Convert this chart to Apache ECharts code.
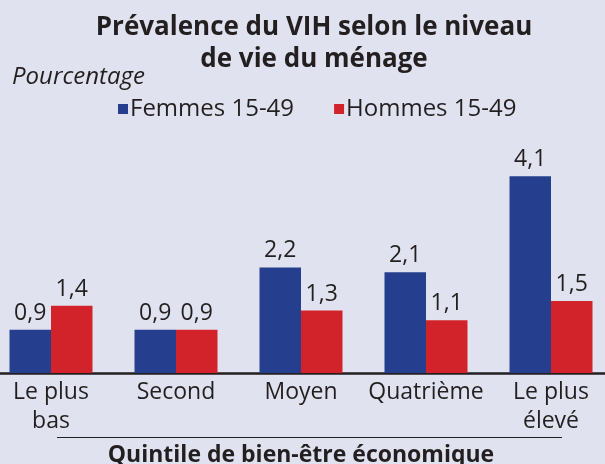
<!DOCTYPE html>
<html>
<head>
<meta charset="utf-8">
<script src="https://cdn.jsdelivr.net/npm/echarts@6/dist/echarts.min.js"></script>
<style>
  html, body { margin: 0; padding: 0; background: #e0e2ef; }
  #chart { width: 605px; height: 464px; }
</style>
</head>
<body>
<div id="chart"></div>
<script>
// quintiles et valeurs (%)
var quintiles = ['Le plus\nbas', 'Second', 'Moyen', 'Quatrième', 'Le plus\nélevé'];
var femmes = [0.9, 0.9, 2.2, 2.1, 4.1];
var hommes = [1.4, 0.9, 1.3, 1.1, 1.5];

var txt = '#231f20';
var fnt = '"Open Sans", "DejaVu Sans", sans-serif';

function virgule(p) {
  return p.value.toFixed(1).replace('.', ',');
}

var myChart = echarts.init(document.getElementById('chart'));
myChart.setOption({
  backgroundColor: '#e0e2ef',
  animation: false,
  textStyle: { fontFamily: fnt, color: txt },
  title: {
    text: 'Prévalence du VIH selon le niveau\nde vie du ménage',
    left: 314,
    top: 12,
    padding: 0,
    textAlign: 'center',
    textStyle: { fontSize: 26, fontWeight: 'bold', lineHeight: 32, color: txt, fontFamily: fnt }
  },
  legend: {
    left: 113,
    top: 92,
    icon: 'rect',
    itemWidth: 10,
    itemHeight: 10,
    itemGap: 40,
    textStyle: { fontSize: 24, color: txt, padding: [0, 0, 0, -3] },
    data: ['Femmes 15-49', 'Hommes 15-49']
  },
  grid: { left: -11.5, right: -8.5, top: 133, bottom: 91, outerBoundsMode: 'none', containLabel: false },
  xAxis: {
    type: 'category',
    data: quintiles,
    axisTick: { show: false },
    axisLine: { lineStyle: { color: txt, width: 2.5 } },
    axisLabel: { fontSize: 23, lineHeight: 29, color: txt, margin: 5, interval: 0 },
    name: 'Quintile de bien-être économique',
    nameLocation: 'middle',
    nameGap: 71,
    nameTextStyle: { fontSize: 23, fontWeight: 'bold', color: txt }
  },
  yAxis: {
    type: 'value',
    min: 0,
    max: 5,
    show: false
  },
  graphic: [
    {
      type: 'text',
      left: 12,
      top: 65,
      style: { text: 'Pourcentage', fontSize: 24, fontStyle: 'italic', fill: txt, fontFamily: fnt }
    },
    {
      type: 'line',
      shape: { x1: 57, y1: 437.5, x2: 562, y2: 437.5 },
      style: { stroke: txt, lineWidth: 1 }
    }
  ],
  series: [
    {
      name: 'Femmes 15-49',
      type: 'bar',
      data: femmes,
      barWidth: 41.5,
      barGap: 0,
      itemStyle: { color: '#253f8e' },
      label: { show: true, position: 'top', distance: 5, fontSize: 23, color: txt, formatter: virgule }
    },
    {
      name: 'Hommes 15-49',
      type: 'bar',
      data: hommes,
      barWidth: 41.5,
      barGap: 0,
      itemStyle: { color: '#d2232a' },
      label: { show: true, position: 'top', distance: 5, fontSize: 23, color: txt, formatter: virgule }
    }
  ]
});
</script>
</body>
</html>
